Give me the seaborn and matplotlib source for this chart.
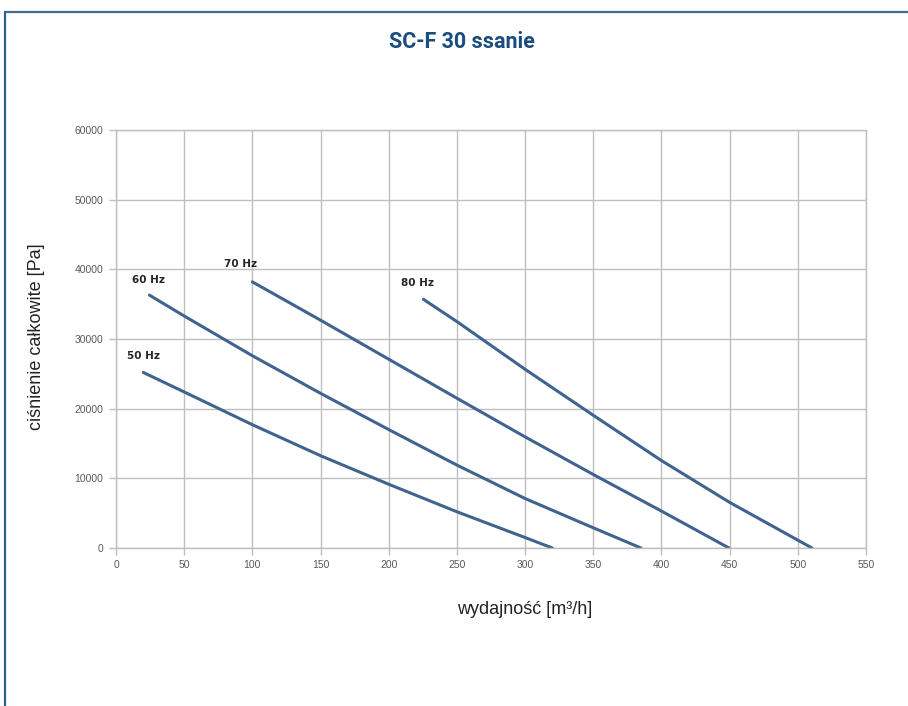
import matplotlib
matplotlib.use("Agg")
import matplotlib.pyplot as plt
import seaborn as sns
import pandas as pd
from matplotlib import font_manager
from matplotlib.lines import Line2D

# ---- data ----
x_50 = [20, 50, 100, 150, 200, 250, 300, 320]
y_50 = [25200, 22400, 17700, 13250, 9150, 5200, 1500, 0]
x_60 = [24.5, 50, 100, 150, 200, 250, 300, 350, 385]
y_60 = [36300, 33300, 27600, 22200, 17000, 11900, 7100, 2900, 0]
x_70 = [100, 150, 200, 250, 300, 350, 400, 449.5]
y_70 = [38200, 32700, 27100, 21500, 15950, 10550, 5300, 0]
x_80 = [225.4, 250, 300, 350, 400, 450, 510.4]
y_80 = [35700, 32500, 25650, 19050, 12550, 6550, 0]
series_names = ["50 Hz", "60 Hz", "70 Hz", "80 Hz"]
label_pos = {"50 Hz": (20, 27600), "60 Hz": (23.5, 38500),
             "70 Hz": (91.5, 40700), "80 Hz": (221, 38100)}
x_ticks = list(range(0, 551, 50))
y_ticks = list(range(0, 60001, 10000))

title = "SC-F 30 ssanie"
xlabel = "wydajność [m³/h]"
ylabel = "ciśnienie całkowite [Pa]"

frames = []
for name, xs, ys in zip(series_names, [x_50, x_60, x_70, x_80], [y_50, y_60, y_70, y_80]):
    frames.append(pd.DataFrame({"x": xs, "y": ys, "f": name}))
df = pd.concat(frames, ignore_index=True)

sns.set_theme(style="white")
avail = {f.name for f in font_manager.fontManager.ttflist}
plt.rcParams["font.family"] = ["Liberation Sans", "DejaVu Sans"]
narrow = "Liberation Sans Narrow" in avail
title_family = ["Liberation Sans Narrow"] if narrow else ["Roboto", "DejaVu Sans"]
title_size = 17 if narrow else 15.5

fig = plt.figure(figsize=(9.08, 7.06), dpi=100)
ax = fig.add_axes([116/908, 1 - 548/706, 750/908, 418/706])

line_color = "#41638f"
sns.lineplot(data=df, x="x", y="y", hue="f", palette=[line_color]*4,
             legend=False, ax=ax, linewidth=2.2, sort=False, estimator=None)

for name in series_names:
    lx, ly = label_pos[name]
    ax.text(lx, ly, name, fontsize=7.5, fontweight="bold", color="#262626",
            ha="center", va="center", family=["DejaVu Sans"])

ax.set_xlim(0, 550)
ax.set_ylim(0, 60000)
ax.set_xticks(x_ticks)
ax.set_yticks(y_ticks)
ax.set_xticklabels([str(v) for v in x_ticks])
ax.set_yticklabels([str(v) for v in y_ticks])
ax.grid(True, color="#bfbfbf", linewidth=1.0)
ax.set_axisbelow(True)
for s in ax.spines.values():
    s.set_color("#bfbfbf")
    s.set_linewidth(1.0)
ax.tick_params(axis="both", which="major", length=5, width=1.0, color="#bfbfbf",
               labelsize=7.5, labelcolor="#595959", pad=4, direction="out",
               bottom=True, left=True)
ax.set_xlabel("")
ax.set_ylabel("")

fig.text(525/908, 1 - 609/706, xlabel, fontsize=13, color="#222222",
         ha="center", va="center")
fig.text(37/908, 1 - 337/706, ylabel, fontsize=13, color="#222222",
         ha="center", va="center", rotation=90)
fig.text(461.5/908, 1 - 42/706, title, fontsize=title_size, fontweight="bold",
         color="#1a4c7e", ha="center", va="center", family=title_family)

# frame lines (top and left)
fig.add_artist(Line2D([5/908, 1], [1 - 12/706, 1 - 12/706], color="#3a6d9c",
                      linewidth=1.6, transform=fig.transFigure))
fig.add_artist(Line2D([5/908, 5/908], [0, 1 - 12/706], color="#2e5f8e",
                      linewidth=1.6, transform=fig.transFigure))

fig.savefig("out.png", dpi=100)
